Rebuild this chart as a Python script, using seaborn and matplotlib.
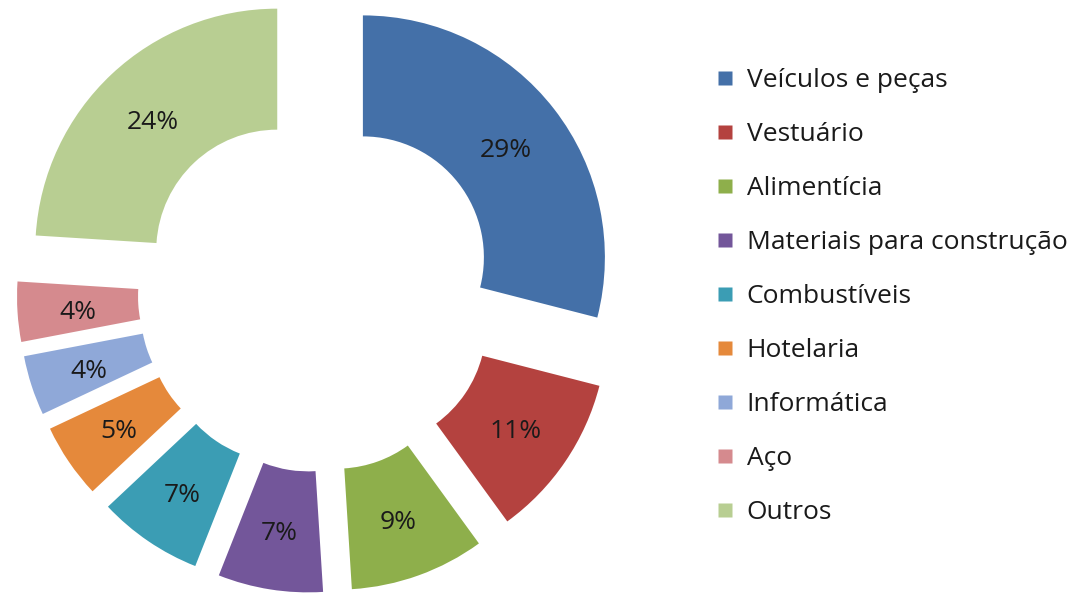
import matplotlib
matplotlib.use("Agg")
import matplotlib.pyplot as plt
import matplotlib.transforms as mtransforms
from matplotlib.lines import Line2D
import seaborn as sns

categories = ["Veículos e peças", "Vestuário", "Alimentícia", "Materiais para construção",
              "Combustíveis", "Hotelaria", "Informática", "Aço", "Outros"]
values = [29, 11, 9, 7, 7, 5, 4, 4, 24]
colors = ["#4470A8", "#B4423F", "#8EAF4B", "#73569A", "#3B9DB4", "#E5893B",
          "#8FA8D8", "#D58A8E", "#B8CE92"]

sns.set_theme(style="white")
plt.rcParams["font.family"] = ["Open Sans", "DejaVu Sans"]

fig = plt.figure(figsize=(10.78, 5.94), dpi=100)
ax = fig.add_axes([0, 0, 700 / 1078, 1])

palette = sns.color_palette(colors)
wedges, texts, autotexts = ax.pie(
    values, colors=palette, startangle=90, counterclock=False,
    explode=[0.24] * len(values), radius=1.0,
    wedgeprops=dict(width=0.5, edgecolor="none"),
    autopct=lambda p: f"{p:.0f}%", pctdistance=0.75,
    textprops=dict(fontsize=19, color="#1a1a1a"))
for t in autotexts:
    t.set_transform(t.get_transform() + mtransforms.ScaledTranslation(0, -4 / 100, fig.dpi_scale_trans))

ax.set_xlim(-317 / 242, 383 / 242)
ax.set_ylim(-(594 - 293) / 242, 293 / 242)
ax.set_aspect("equal", adjustable="box")
ax.axis("off")

handles = [Line2D([0], [0], marker="s", linestyle="none", markersize=9.5,
                  markerfacecolor=c, markeredgecolor="none") for c in palette]
fig.legend(handles, categories, loc="upper left", bbox_to_anchor=(694 / 1078, 1 - 44 / 594),
           frameon=False, fontsize=19, handlelength=0.55, handletextpad=0.55,
           labelspacing=1.10, labelcolor="#1a1a1a")

fig.savefig("out.png", dpi=100, facecolor="white")
